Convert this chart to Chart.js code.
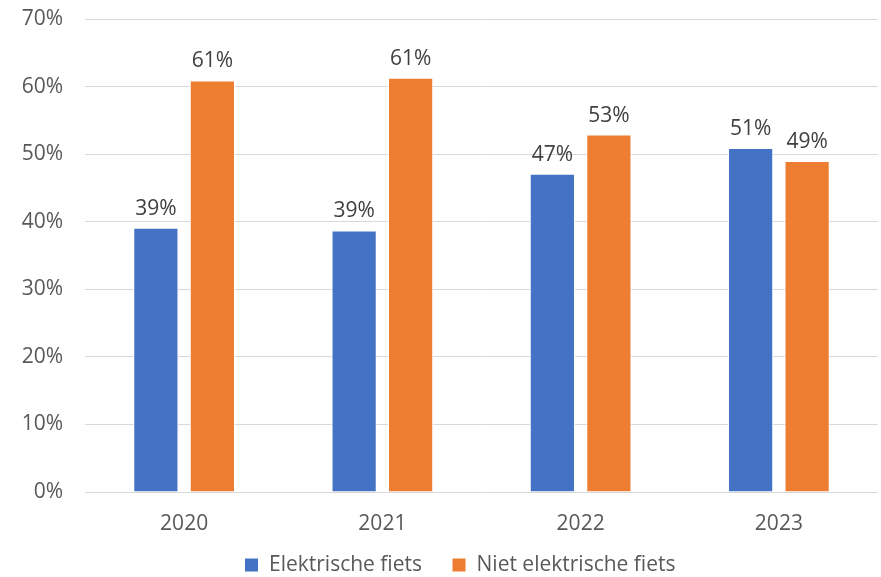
<!DOCTYPE html>
<html>
<head>
<meta charset="utf-8">
<script src="https://cdn.jsdelivr.net/npm/chart.js@4/dist/chart.umd.min.js"></script>
<style>
  html, body { margin: 0; padding: 0; background: #fff; }
  #wrap { width: 881px; height: 577px; }
</style>
</head>
<body>
<div id="wrap"><canvas id="fietsen"></canvas></div>
<script>
// jaren en aandelen (in %)
const years = ['2020', '2021', '2022', '2023'];
const elektrisch = [39.1, 38.7, 47.1, 50.9];
const nietElektrisch = [60.9, 61.3, 52.9, 49.0];
const yTicks = [0, 10, 20, 30, 40, 50, 60, 70];

const fontFamily = "'Open Sans', 'Noto Sans', sans-serif";

// eigen plugin voor de waarden boven de staven
const barLabels = {
  id: 'barLabels',
  afterDatasetsDraw(chart) {
    const ctx = chart.ctx;
    ctx.save();
    ctx.font = '21px ' + fontFamily;
    ctx.fillStyle = '#404040';
    ctx.textAlign = 'center';
    ctx.textBaseline = 'alphabetic';
    chart.data.datasets.forEach((ds, i) => {
      chart.getDatasetMeta(i).data.forEach((bar, j) => {
        ctx.fillText(Math.round(ds.data[j]) + '%', bar.x, bar.y - 13);
      });
    });
    ctx.restore();
  }
};

// legenda: ruime afstand tussen items, maar minder hoog en iets verschoven
const legendPlace = {
  id: 'legendPlace',
  afterInit(chart) {
    const legend = chart.legend;
    const fit = legend.fit;
    legend.fit = function () {
      fit.call(this);
      this.height = 40;
    };
  },
  afterLayout(chart) {
    const legend = chart.legend;
    legend.top -= 12.5;
    legend.height += 12.5;
    legend.left += 21;
    legend.right += 21;
  }
};

var ctx = document.getElementById('fietsen');
var chart = new Chart(ctx, {
  type: 'bar',
  data: {
    labels: years,
    datasets: [{
      label: 'Elektrische fiets',
      data: elektrisch,
      backgroundColor: '#4472C4',
      borderColor: '#ffffff',
      borderWidth: 1
    }, {
      label: 'Niet elektrische fiets',
      data: nietElektrisch,
      backgroundColor: '#ED7D31',
      borderColor: '#ffffff',
      borderWidth: 1
    }]
  },
  options: {
    responsive: true,
    maintainAspectRatio: false,
    animation: false,
    layout: { padding: { top: 19, right: 3, left: 0, bottom: 0 } },
    datasets: {
      bar: { categoryPercentage: 0.57, barPercentage: 0.8 }
    },
    scales: {
      x: {
        grid: { display: false, drawTicks: false },
        border: { display: false },
        afterFit(scale) { scale.height = 45; },
        ticks: {
          color: '#595959',
          font: { family: fontFamily, size: 21 },
          padding: 19
        }
      },
      y: {
        min: 0,
        max: 70,
        afterBuildTicks(scale) {
          scale.ticks = yTicks.map(v => ({ value: v }));
        },
        afterFit(scale) {
          scale.width = 85;
          scale.paddingTop = 0;
          scale.paddingBottom = 0;
        },
        grid: { color: '#d9d9d9', lineWidth: 1, drawTicks: false },
        border: { display: false },
        ticks: {
          color: '#595959',
          font: { family: fontFamily, size: 21 },
          padding: 22,
          callback: v => v + '%'
        }
      }
    },
    plugins: {
      legend: {
        position: 'bottom',
        labels: {
          color: '#595959',
          font: { family: fontFamily, size: 21 },
          boxWidth: 14,
          boxHeight: 14,
          padding: 30
        }
      },
      tooltip: { enabled: false }
    }
  },
  plugins: [barLabels, legendPlace]
});
</script>
</body>
</html>
